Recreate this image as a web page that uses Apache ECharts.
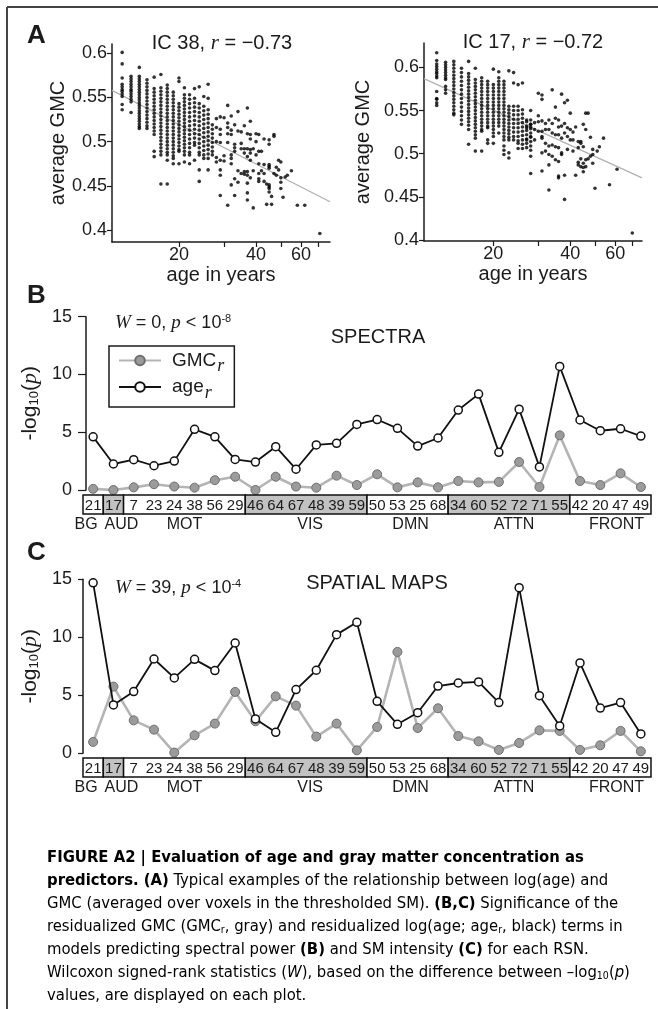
<!DOCTYPE html>
<html><head><meta charset="utf-8">
<script src="https://cdn.jsdelivr.net/npm/echarts@6/dist/echarts.min.js"></script>
<style>html,body{margin:0;padding:0;background:#fff}#c{width:658px;height:1009px}</style>
</head><body><div id="c"></div>
<script>
// ---------- DATA ----------
const rsnLabels = ['21','17','7','23','24','38','56','29','46','64','67','48','39','59','50','53','25','68','34','60','52','72','71','55','42','20','47','49'];
// [first index, last index, network, shaded]
const rsnGroups = [[0,0,'BG',0],[1,1,'AUD',1],[2,7,'MOT',0],[8,13,'VIS',1],[14,17,'DMN',0],[18,23,'ATTN',1],[24,27,'FRONT',0]];
const spectraAge = [4.6,2.25,2.62,2.1,2.5,5.25,4.6,2.65,2.42,3.75,1.8,3.9,4.04,5.68,6.1,5.34,3.8,4.5,6.92,8.3,3.26,7.0,2.0,10.7,6.06,5.13,5.3,4.67];
const spectraGmc = [0.1,0.0,0.23,0.5,0.3,0.2,0.85,1.15,0.0,1.15,0.3,0.2,1.24,0.43,1.36,0.23,0.66,0.23,0.78,0.66,0.7,2.42,0.26,4.73,0.78,0.43,1.44,0.26];
const mapsAge = [14.7,4.17,5.32,8.13,6.5,8.1,7.13,9.51,2.96,1.81,5.49,7.16,10.23,11.29,4.48,2.5,3.5,5.8,6.06,6.15,4.37,14.28,4.97,2.36,7.79,3.9,4.37,1.67];
const mapsGmc = [0.98,5.75,2.84,2.04,0.06,1.55,2.56,5.29,2.76,4.91,4.11,1.44,2.56,0.26,2.27,8.74,2.18,3.88,1.49,1.03,0.29,0.89,1.98,1.93,0.29,0.69,1.93,0.17];

// IC 38: subjects grouped by age (years) -> GMC values, plus sparse older subjects
const ic38Cols = [
 [12,[0.601,0.588,0.572,0.565,0.562,0.559,0.557,0.554,0.551,0.542,0.536]],
 [13,[0.574,0.571,0.568,0.565,0.562,0.559,0.557,0.554,0.551,0.548,0.545,0.533]],
 [14,[0.584,0.574,0.571,0.568,0.565,0.562,0.559,0.556,0.553,0.550,0.547,0.544,0.541,0.538,0.535,0.532,0.529,0.526,0.523,0.520,0.517,0.515]],
 [15,[0.570,0.566,0.562,0.558,0.554,0.550,0.546,0.542,0.538,0.534,0.530,0.526,0.522,0.518,0.515]],
 [16,[0.573,0.560,0.556,0.552,0.548,0.544,0.540,0.536,0.532,0.528,0.524,0.520,0.516,0.512,0.508,0.489,0.483]],
 [17,[0.576,0.561,0.557,0.553,0.549,0.545,0.541,0.537,0.533,0.529,0.525,0.521,0.517,0.513,0.509,0.505,0.501,0.497,0.493,0.489,0.485,0.452]],
 [18,[0.564,0.560,0.556,0.552,0.548,0.544,0.540,0.536,0.532,0.528,0.524,0.520,0.516,0.512,0.508,0.504,0.500,0.496,0.492,0.488,0.485,0.479,0.452]],
 [19,[0.556,0.552,0.548,0.544,0.540,0.536,0.532,0.528,0.524,0.520,0.516,0.512,0.508,0.504,0.500,0.496,0.492,0.488,0.484,0.481,0.475]],
 [20,[0.572,0.568,0.543,0.539,0.535,0.531,0.527,0.523,0.519,0.515,0.511,0.507,0.503,0.499,0.495,0.491,0.489,0.475]],
 [21,[0.561,0.553,0.549,0.545,0.541,0.537,0.533,0.529,0.525,0.521,0.517,0.513,0.509,0.505,0.501,0.497,0.493,0.489,0.485,0.477]],
 [22,[0.553,0.548,0.543,0.538,0.533,0.528,0.523,0.518,0.513,0.508,0.503,0.498,0.493,0.488,0.485,0.475]],
 [23,[0.560,0.549,0.544,0.539,0.534,0.529,0.524,0.519,0.514,0.509,0.504,0.499,0.496,0.479]],
 [24,[0.562,0.543,0.538,0.533,0.528,0.523,0.518,0.513,0.508,0.503,0.498,0.493,0.488,0.485,0.468,0.455]],
 [25,[0.551,0.540,0.535,0.530,0.525,0.520,0.515,0.510,0.505,0.500,0.495,0.490,0.485,0.481]],
 [26,[0.565,0.549,0.536,0.531,0.526,0.521,0.516,0.511,0.506,0.501,0.496,0.491,0.486,0.481,0.468]],
 [27,[0.519,0.514,0.509,0.504,0.499,0.494,0.489,0.485]]
];
const ic38Older = [[31,0.541],[37,0.538],[34,0.534],[32,0.529],[29,0.528],[30,0.527],[28,0.526],[31,0.521],[33,0.519],[36,0.518],[38,0.523],[28,0.516],[31,0.516],[29,0.514],[32,0.513],[34,0.512],[35,0.511],[37,0.509],[38,0.508],[40,0.509],[41,0.508],[47,0.508],[47,0.506],[45,0.502],[43,0.503],[45,0.497],[31,0.509],[29,0.508],[32,0.508],[28,0.500],[29,0.499],[31,0.499],[33,0.497],[35,0.498],[38,0.503],[40,0.500],[33,0.493],[35,0.492],[36,0.492],[37,0.492],[38,0.491],[39,0.492],[41,0.489],[42,0.489],[33,0.489],[32,0.485],[30,0.484],[28,0.482],[29,0.479],[32,0.481],[28,0.477],[30,0.478],[32,0.475],[38,0.487],[40,0.485],[36,0.487],[37,0.483],[38,0.479],[41,0.475],[43,0.474],[45,0.474],[45,0.472],[49,0.479],[50,0.477],[48,0.471],[49,0.468],[55,0.467],[53,0.462],[52,0.460],[50,0.459],[48,0.462],[47,0.464],[29,0.468],[29,0.462],[34,0.467],[35,0.464],[36,0.466],[37,0.466],[36,0.463],[37,0.462],[39,0.467],[41,0.464],[42,0.467],[43,0.464],[45,0.470],[33,0.458],[32,0.451],[34,0.454],[38,0.459],[37,0.453],[41,0.455],[41,0.458],[43,0.455],[44,0.452],[45,0.451],[45,0.449],[45,0.447],[50,0.454],[50,0.447],[45,0.443],[29,0.439],[33,0.439],[37,0.442],[37,0.434],[46,0.438],[51,0.437],[31,0.428],[39,0.425],[44,0.429],[46,0.429],[58,0.428],[62,0.428],[71,0.396]];
const ic38Fit = [[10.95,0.558],[77.8,0.432]];

// IC 17
const ic17Cols = [
 [12,[0.617,0.608,0.604,0.601,0.598,0.595,0.593,0.590,0.588,0.572,0.564,0.563,0.559,0.556]],
 [13,[0.606,0.603,0.600,0.597,0.594,0.591,0.588,0.586,0.578,0.574,0.570]],
 [14,[0.607,0.603,0.599,0.595,0.591,0.587,0.583,0.579,0.575,0.571,0.567,0.563,0.559,0.555,0.551,0.547,0.545]],
 [15,[0.599,0.594,0.589,0.584,0.579,0.574,0.569,0.564,0.559,0.554,0.549,0.544,0.539,0.534]],
 [16,[0.607,0.593,0.589,0.585,0.581,0.577,0.573,0.569,0.565,0.561,0.557,0.553,0.549,0.545,0.541,0.537,0.533,0.528,0.511]],
 [17,[0.599,0.586,0.582,0.578,0.574,0.570,0.566,0.562,0.558,0.554,0.550,0.546,0.542,0.538,0.534,0.530,0.526,0.522,0.518,0.503]],
 [18,[0.588,0.584,0.580,0.576,0.572,0.568,0.564,0.560,0.556,0.552,0.548,0.544,0.540,0.536,0.532,0.528,0.526,0.503]],
 [19,[0.584,0.580,0.576,0.572,0.568,0.564,0.560,0.556,0.552,0.548,0.544,0.540,0.536,0.532,0.530,0.516,0.512]],
 [20,[0.598,0.580,0.576,0.572,0.568,0.564,0.560,0.556,0.552,0.548,0.544,0.540,0.536,0.532,0.528,0.524,0.520,0.512]],
 [21,[0.595,0.588,0.584,0.580,0.576,0.572,0.568,0.564,0.560,0.556,0.552,0.548,0.544,0.540,0.536,0.532,0.524]],
 [22,[0.584,0.580,0.576,0.572,0.568,0.564,0.560,0.556,0.552,0.548,0.544,0.540,0.536,0.532,0.528,0.524,0.520,0.516,0.509,0.504,0.499]],
 [23,[0.596,0.555,0.551,0.547,0.543,0.539,0.535,0.531,0.527,0.523,0.519,0.516,0.501,0.495]],
 [24,[0.594,0.582,0.555,0.550,0.545,0.540,0.535,0.530,0.525,0.520,0.516]],
 [25,[0.580,0.555,0.550,0.545,0.540,0.535,0.530,0.525,0.520,0.515,0.512,0.506]],
 [26,[0.582,0.551,0.546,0.541,0.536,0.531,0.526,0.521,0.516,0.511,0.506]],
 [27,[0.537,0.532,0.527,0.522,0.517,0.512,0.507]],
 [28,[0.539,0.534,0.529,0.524,0.519,0.514,0.509,0.504]]
];
const ic17Older = [[30,0.570],[31,0.568],[31,0.563],[34,0.574],[37,0.569],[38,0.559],[39,0.562],[35,0.554],[40,0.547],[46,0.547],[47,0.547],[28,0.550],[27,0.539],[30,0.544],[29,0.536],[28,0.534],[30,0.537],[31,0.538],[32,0.535],[33,0.539],[34,0.535],[35,0.541],[36,0.539],[36,0.531],[37,0.532],[38,0.535],[39,0.530],[40,0.528],[41,0.525],[42,0.531],[44,0.514],[45,0.534],[46,0.528],[48,0.519],[54,0.518],[27,0.530],[28,0.531],[29,0.528],[30,0.526],[31,0.526],[32,0.528],[33,0.528],[34,0.524],[35,0.522],[36,0.522],[37,0.518],[38,0.524],[39,0.520],[40,0.516],[41,0.516],[43,0.514],[44,0.512],[28,0.520],[27,0.516],[29,0.516],[31,0.520],[32,0.512],[33,0.509],[34,0.510],[35,0.508],[36,0.507],[37,0.501],[37,0.499],[39,0.505],[41,0.503],[43,0.507],[45,0.508],[49,0.505],[52,0.508],[51,0.503],[49,0.499],[48,0.497],[47,0.494],[46,0.493],[44,0.494],[43,0.490],[45,0.489],[43,0.487],[44,0.485],[45,0.484],[46,0.485],[49,0.489],[32,0.503],[33,0.499],[34,0.497],[31,0.501],[31,0.518],[35,0.493],[28,0.497],[33,0.487],[36,0.491],[61,0.482],[31,0.480],[28,0.477],[36,0.474],[36,0.472],[38,0.475],[42,0.475],[45,0.479],[50,0.460],[57,0.464],[33,0.458],[38,0.447],[70,0.408]];
const ic17Fit = [[10.7,0.587],[76.4,0.472]];

const ageTicks = [20,30,40,50,60,70];
const ageTickLabels = [20,40,60];
const gmcTicks = [0.4,0.45,0.5,0.55,0.6];

// ---------- RENDER ----------
const chart = echarts.init(document.getElementById('c'), null, {renderer:'canvas', width:658, height:1009});
const SANS = '"Liberation Sans", Arial, Helvetica, sans-serif';
const SERIF = '"Liberation Serif", "Times New Roman", serif';
const NARROW = '"Liberation Sans Narrow", "DejaVu Sans Condensed", "Arial Narrow", sans-serif';
const INK = '#1b1b1b';
const lg = Math.log10;

function flatten(cols, extra){
  const out = [];
  cols.forEach(([a, vs]) => vs.forEach(v => out.push([lg(a), v])));
  extra.forEach(([a, v]) => out.push([lg(a), v]));
  return out;
}

function scatterX(gi, ageRange){
  return {gridIndex:gi, type:'value', min:lg(ageRange[0]), max:lg(ageRange[1]),
    axisLine:{lineStyle:{color:INK, width:1.5}},
    axisTick:{customValues:ageTicks.map(lg), length:5, lineStyle:{color:INK, width:1.2}},
    axisLabel:{customValues:ageTickLabels.map(lg), formatter:v=>String(Math.round(Math.pow(10,v))), fontSize:18, fontFamily:SANS, color:INK, margin:4},
    splitLine:{show:false},
    name:'age in years', nameLocation:'middle', nameGap:23,
    nameTextStyle:{fontSize:20, fontFamily:SANS, color:INK}};
}
function scatterY(gi, range, gap){
  return {gridIndex:gi, type:'value', min:range[0], max:range[1],
    axisLine:{show:true, lineStyle:{color:INK, width:1.5}},
    axisTick:{show:true, customValues:gmcTicks, length:5, lineStyle:{color:INK, width:1.2}},
    axisLabel:{customValues:gmcTicks, formatter:v=>String(v), fontSize:18, fontFamily:SANS, color:INK, margin:5},
    splitLine:{show:false},
    name:'average GMC', nameLocation:'middle', nameGap:gap, nameRotate:90,
    nameTextStyle:{fontSize:20, fontFamily:SANS, color:INK}};
}
function lineY(gi, offset, margin, tickLen, gap){
  return {gridIndex:gi, type:'value', min:0, max:15, interval:5, offset:offset,
    axisLine:{show:true, lineStyle:{color:INK, width:1.5}},
    axisTick:{show:true, length:tickLen, lineStyle:{color:INK, width:1.2}},
    axisLabel:{fontSize:18, fontFamily:SANS, color:INK, margin:margin},
    splitLine:{show:false},
    name:'-log{s|10}({i|p})', nameLocation:'middle', nameGap:gap, nameRotate:90,
    nameTextStyle:{fontSize:21, fontFamily:SANS, color:INK,
      rich:{s:{fontSize:13, fontFamily:SANS, color:INK, padding:[9,0,0,0]}, i:{fontSize:22, fontStyle:'italic', fontFamily:SERIF, color:INK}}}};
}
function catX(gi){
  return {gridIndex:gi, type:'category', data:rsnLabels, boundaryGap:true, show:false};
}
function boxY(gi){ return {gridIndex:gi, type:'value', min:0, max:1, show:false}; }

const groupNudge = {BG:-7, AUD:8, MOT:0, VIS:4, DMN:3, ATTN:5, FRONT:6};
function groupSeries(xi){
  return {type:'custom', xAxisIndex:xi, yAxisIndex:xi, data:rsnGroups.map(g=>[g[0],g[1]]), silent:true, z:3,
    renderItem:(params, api)=>{
      const g = rsnGroups[params.dataIndex];
      const w = api.size([1,0])[0];
      const p0 = api.coord([g[0], 1]), p1 = api.coord([g[1], 0]);
      const x0 = p0[0]-w/2, x1 = p1[0]+w/2;
      return {type:'group', children:[
        {type:'rect', shape:{x:x0, y:p0[1], width:x1-x0, height:p1[1]-p0[1]},
          style:{fill:g[3]?'#c2c2c2':'#ffffff', stroke:'#111', lineWidth:1.5}},
        {type:'text', style:{text:g[2], x:(x0+x1)/2+groupNudge[g[2]], y:p1[1]+3, align:'center', verticalAlign:'top',
          fontSize:16, fontFamily:SANS, fill:INK}}
      ]};
    }};
}
function numberSeries(xi){
  return {type:'custom', xAxisIndex:xi, yAxisIndex:xi, data:rsnLabels.map((l,i)=>[i,0.5]), silent:true, z:4,
    renderItem:(params, api)=>{
      const p = api.coord([api.value(0), 0.5]);
      return {type:'text', style:{text:rsnLabels[params.dataIndex], x:p[0], y:p[1]+1, align:'center', verticalAlign:'middle',
        fontSize:15, fontFamily:SANS, fill:INK}};
    }};
}
function gmcLine(xi, data){
  return {type:'line', name:'GMC', xAxisIndex:xi, yAxisIndex:xi, data:data, symbol:'circle', symbolSize:9,
    lineStyle:{color:'#b4b4b4', width:2.6}, itemStyle:{color:'#9b9b9b', borderColor:'#6e6e6e', borderWidth:1}, z:2};
}
function ageLine(xi, data){
  return {type:'line', name:'age', xAxisIndex:xi, yAxisIndex:xi, data:data, symbol:'circle', symbolSize:8,
    lineStyle:{color:'#111', width:1.8}, itemStyle:{color:'#fff', borderColor:'#111', borderWidth:1.5}, z:3};
}

function txt(text, x, y, size, opts){
  return {type:'text', x:x, y:y, style:Object.assign({text:text, fontSize:size, fontFamily:SANS, fill:INK, align:'left', verticalAlign:'middle'}, opts||{})};
}
const CAP = 16.5;
const capRich = {
  n:{fontSize:CAP, fontFamily:NARROW, color:'#2a2a2a'},
  b:{fontSize:CAP, fontFamily:NARROW, fontWeight:'bold', color:'#111'},
  i:{fontSize:CAP, fontFamily:NARROW, fontStyle:'italic', color:'#2a2a2a'},
  s:{fontSize:10.5, fontFamily:NARROW, color:'#2a2a2a', padding:[7,0,0,0]}
};
const captionLines = [
  '{b|FIGURE A2 | Evaluation of age and gray matter concentration as}',
  '{b|predictors. (A)}{n| Typical examples of the relationship between log(age) and}',
  '{n|GMC (averaged over voxels in the thresholded SM). }{b|(B,C)}{n| Significance of the}',
  '{n|residualized GMC (GMC}{s|r}{n|, gray) and residualized log(age; age}{s|r}{n|, black) terms in}',
  '{n|models predicting spectral power }{b|(B)}{n| and SM intensity }{b|(C)}{n| for each RSN.}',
  '{n|Wilcoxon signed-rank statistics (}{i|W}{n|), based on the difference between –log}{s|10}{n|(}{i|p}{n|)}',
  '{n|values, are displayed on each plot.}'
];
const graphics = [
  {type:'line', shape:{x1:7, y1:7, x2:658, y2:7}, style:{stroke:'#444', lineWidth:2}},
  {type:'line', shape:{x1:7, y1:7, x2:7, y2:1009}, style:{stroke:'#444', lineWidth:2}},
  txt('A', 27, 36, 26, {fontWeight:'bold'}),
  txt('B', 27, 296, 26, {fontWeight:'bold'}),
  txt('C', 27, 553, 26, {fontWeight:'bold'}),
  txt('IC 38, {i|r} = −0.73', 222, 43, 20, {align:'center', rich:{i:{fontSize:21, fontStyle:'italic', fontFamily:SERIF}}}),
  txt('IC 17, {i|r} = −0.72', 533, 42, 20, {align:'center', rich:{i:{fontSize:21, fontStyle:'italic', fontFamily:SERIF}}}),
  txt('{i|W} = 0, {i|p} < 10{u|-8}', 115, 323, 18, {rich:{i:{fontSize:19, fontStyle:'italic', fontFamily:SERIF}, u:{fontSize:11, padding:[0,0,9,0]}}}),
  txt('{i|W} = 39, {i|p} < 10{u|-4}', 115, 588, 18, {rich:{i:{fontSize:19, fontStyle:'italic', fontFamily:SERIF}, u:{fontSize:11, padding:[0,0,9,0]}}}),
  txt('SPECTRA', 378, 337, 20, {align:'center'}),
  txt('SPATIAL MAPS', 377, 583, 20, {align:'center'})
];
captionLines.forEach((l, k) => graphics.push({type:'text', x:47, y:858 + k*23,
  style:{text:l, rich:capRich, fontSize:CAP, fontFamily:NARROW, align:'left', verticalAlign:'middle'}}));

const option = {
  animation:false,
  backgroundColor:'#fff',
  grid:[
    {left:112, top:44, width:218, height:198},
    {left:424, top:43, width:218, height:198},
    {left:83, top:316.7, width:568, height:173.3},
    {left:83, top:495, width:568, height:19},
    {left:83, top:579.3, width:568, height:174},
    {left:83, top:758, width:568, height:19}
  ],
  xAxis:[scatterX(0,[10.95,77.8]), scatterX(1,[10.7,76.4]), catX(2), catX(3), catX(4), catX(5)],
  yAxis:[scatterY(0,[0.3864,0.6105],44), scatterY(1,[0.3988,0.6283],51), lineY(2,-3,14,8,40), boxY(3), lineY(4,0,11,5,37), boxY(5)],
  legend:{show:true, left:109, top:346, orient:'vertical', data:['GMC','age'], itemWidth:42, itemHeight:12, itemGap:2,
    padding:[5,10,5,9], borderColor:INK, borderWidth:1.5, backgroundColor:'#fff', selectedMode:false,
    formatter:n=>n+'{s|r}',
    textStyle:{fontSize:19, fontFamily:SANS, color:INK, padding:[0,0,0,6],
      rich:{s:{fontSize:18, fontStyle:'italic', fontFamily:SERIF, color:INK, padding:[12,0,0,1]}}}},
  graphic:graphics,
  series:[
    {type:'line', xAxisIndex:0, yAxisIndex:0, data:ic38Fit.map(([a,v])=>[lg(a),v]), symbol:'none', lineStyle:{color:'#b0b0b0', width:1.2}, z:1, silent:true},
    {type:'scatter', xAxisIndex:0, yAxisIndex:0, data:flatten(ic38Cols, ic38Older), symbolSize:3.6, itemStyle:{color:'#000'}, z:2},
    {type:'line', xAxisIndex:1, yAxisIndex:1, data:ic17Fit.map(([a,v])=>[lg(a),v]), symbol:'none', lineStyle:{color:'#b0b0b0', width:1.2}, z:1, silent:true},
    {type:'scatter', xAxisIndex:1, yAxisIndex:1, data:flatten(ic17Cols, ic17Older), symbolSize:3.6, itemStyle:{color:'#000'}, z:2},
    gmcLine(2, spectraGmc), ageLine(2, spectraAge),
    groupSeries(3), numberSeries(3),
    gmcLine(4, mapsGmc), ageLine(4, mapsAge),
    groupSeries(5), numberSeries(5)
  ]
};
chart.setOption(option);
</script></body></html>
